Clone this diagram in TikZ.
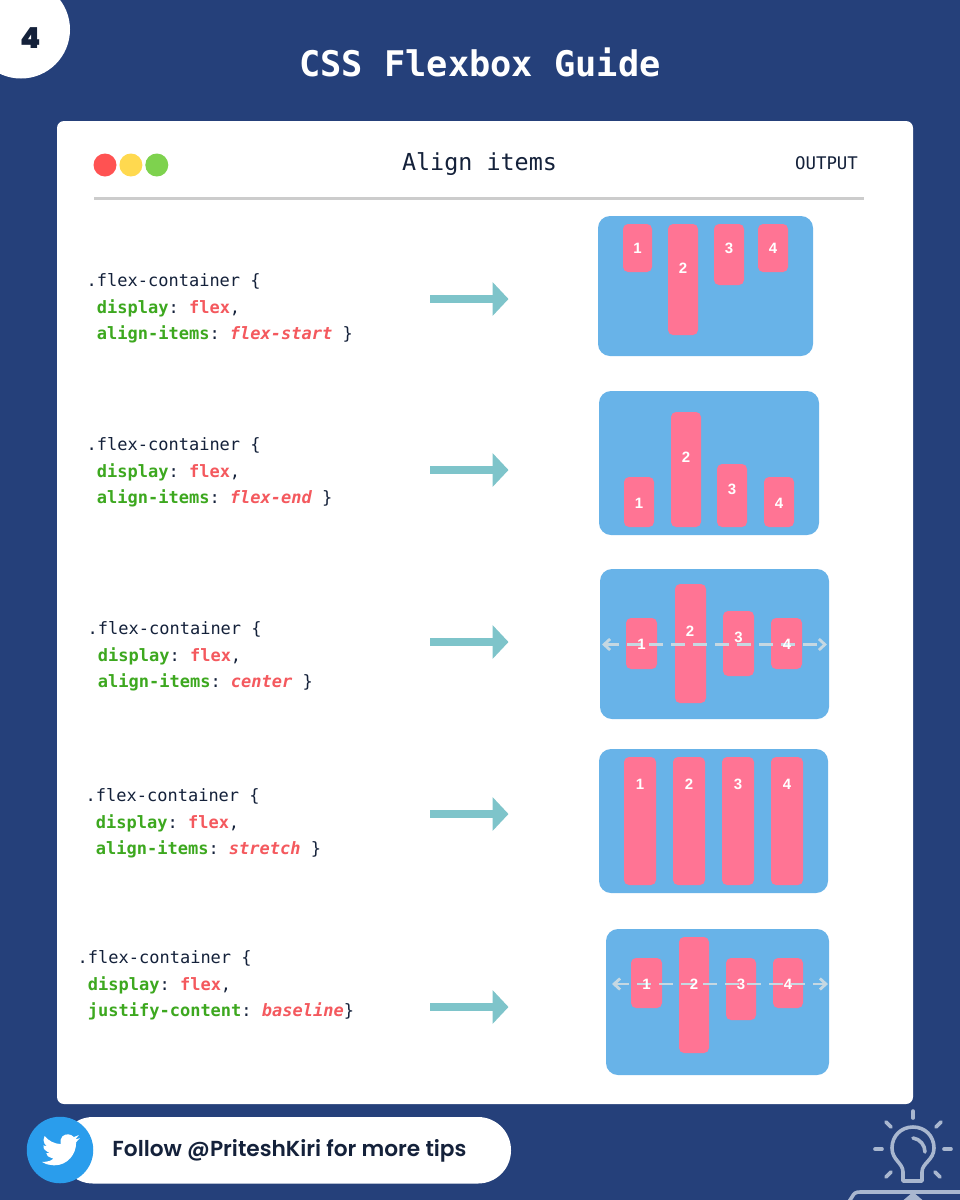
\documentclass[tikz,border=0pt]{standalone}
\usepackage{fontspec}
\setmainfont{Liberation Sans}
\newfontfamily\codefont{DejaVu Sans Mono}
\newfontfamily\followfont{Poppins SemiBold}
\newfontfamily\heavyfont{Poppins Black}
\usepackage{xcolor}
\usepackage{tikz}
\usetikzlibrary{positioning,arrows.meta}
\definecolor{navy}{HTML}{25407A}
\definecolor{ink}{HTML}{14213A}
\definecolor{codegreen}{HTML}{3DA81F}
\definecolor{codered}{HTML}{F4595E}
\definecolor{boxblue}{HTML}{68B3E8}
\definecolor{itempink}{HTML}{FF7494}
\definecolor{teal}{HTML}{7EC4CA}
\definecolor{dashgrey}{HTML}{C6D8E2}
\definecolor{bulb}{HTML}{A9B7CF}
\definecolor{twblue}{HTML}{2A9DEC}
\definecolor{dotred}{HTML}{FF5252}
\definecolor{dotyellow}{HTML}{FFD94F}
\definecolor{dotgreen}{HTML}{7ED24E}
\newcommand{\prop}[1]{\textcolor{codegreen}{\bfseries #1}}
\newcommand{\val}[1]{\textcolor{codered}{\bfseries #1}}
\newcommand{\valit}[1]{\textcolor{codered}{\bfseries\itshape #1}}
\tikzset{
  panel/.style={fill=white, rounded corners=7pt},
  dot/.style={circle, inner sep=0pt, minimum size=23pt},
  code/.style={anchor=west, align=left, inner sep=0pt, text=ink,
               font=\codefont\frenchspacing\fontsize{17}{26.6}\selectfont},
  flexbox/.style={fill=boxblue, rounded corners=12pt},
  item/.style={fill=itempink, rounded corners=5pt, inner sep=0pt},
  num/.style={text=white, inner sep=0pt, font=\bfseries\fontsize{15}{15}\selectfont},
  bigarrow/.style={draw=teal, line width=8.5pt, -{Triangle[length=16pt,width=33pt]}},
  midline/.style={draw=dashgrey, line width=2.8pt, dash pattern=on 14pt off 8pt,
                  {Straight Barb[length=6pt,width=11pt]}-{Straight Barb[length=6pt,width=11pt]}},
  ray/.style={draw=bulb, line width=3.6pt, line cap=round, line join=round},
}
\begin{document}
\begin{tikzpicture}[x=1pt,y=-1pt]
  \useasboundingbox[fill=navy] (0,0) rectangle (960,1200);
  % header
  \node[circle,fill=white,inner sep=0pt,minimum size=98pt] (badge) at (21,29.5) {};
  \node[text=ink,inner sep=0pt,font=\heavyfont\fontsize{29}{29}\selectfont] (page) at (31,38) {4};
  \node[text=white,inner sep=0pt,font=\codefont\bfseries\fontsize{35.3}{36}\selectfont] (title) at (480,62.5) {CSS Flexbox Guide};
  \fill[panel] (57,121) rectangle (913,1104);
  \node[dot,fill=dotred] (red) at (105,165) {};
  \node[dot,fill=dotyellow,right=2.5pt of red] (yellow) {};
  \node[dot,fill=dotgreen,right=2.5pt of yellow] (green) {};
  \node[text=ink,inner sep=0pt,font=\codefont\fontsize{23.4}{24}\selectfont] (head) at (479.5,164.5) {Align items};
  \node[text=ink,inner sep=0pt,font=\codefont\fontsize{17.4}{18}\selectfont] (output) at (826.5,163) {OUTPUT};
  \coordinate (rulel) at (94,198.5);
  \coordinate (ruler) at (864,198.5);
  \draw[line width=2.5pt,draw=black!20] (rulel) -- (ruler);

  % code column
  \node[code] (code1) at (86.5,308.5) {.flex-container \{\\ ~\prop{display}: \val{flex},\\ ~\prop{align-items}: \valit{flex-start} \}};
  \node[code] (code2) at (86.5,472.5) {.flex-container \{\\ ~\prop{display}: \val{flex},\\ ~\prop{align-items}: \valit{flex-end} \}};
  \node[code] (code3) at (87.5,656.5) {.flex-container \{\\ ~\prop{display}: \val{flex},\\ ~\prop{align-items}: \valit{center} \}};
  \node[code] (code4) at (85.5,823.5) {.flex-container \{\\ ~\prop{display}: \val{flex},\\ ~\prop{align-items}: \valit{stretch} \}};
  \node[code] (code5) at (77.5,985.5) {.flex-container \{\\ ~\prop{display}: \val{flex},\\ ~\prop{justify-content}: \valit{baseline}\}};

  % arrows
  \coordinate (from1) at (430,299); \coordinate (to1) at (508.5,299);
  \coordinate (from2) at (430,470); \coordinate (to2) at (508.5,470);
  \coordinate (from3) at (430,642); \coordinate (to3) at (508.5,642);
  \coordinate (from4) at (430,814); \coordinate (to4) at (508.5,814);
  \coordinate (from5) at (430,1007); \coordinate (to5) at (508.5,1007);
  \draw[bigarrow] (from1) -- (to1);
  \draw[bigarrow] (from2) -- (to2);
  \draw[bigarrow] (from3) -- (to3);
  \draw[bigarrow] (from4) -- (to4);
  \draw[bigarrow] (from5) -- (to5);

  % flex-start
  \fill[flexbox] (598,216) rectangle (813,356);
  \node[item,minimum width=29pt,minimum height=48pt] (a1) at (637.5,248) {};
  \node[item,minimum width=30pt,minimum height=111pt] (a2) at (683,279.5) {};
  \node[item,minimum width=30pt,minimum height=61pt] (a3) at (729,254.5) {};
  \node[item,minimum width=30pt,minimum height=48pt] (a4) at (773,248) {};
  \node[num] at (637.5,248) {1};
  \node[num] at (683,268) {2};
  \node[num] at (729,248) {3};
  \node[num] at (773,248) {4};

  % flex-end
  \fill[flexbox] (599,391) rectangle (819,535);
  \node[item,minimum width=30pt,minimum height=50pt] (b1) at (639,502) {};
  \node[item,minimum width=30pt,minimum height=115pt] (b2) at (686,469.5) {};
  \node[item,minimum width=30pt,minimum height=63pt] (b3) at (732,495.5) {};
  \node[item,minimum width=30pt,minimum height=50pt] (b4) at (779,502) {};
  \node[num] at (639,503) {1};
  \node[num] at (686,457) {2};
  \node[num] at (732,489) {3};
  \node[num] at (779,503) {4};

  % center
  \fill[flexbox] (600,569) rectangle (829,719);
  \node[item,minimum width=31pt,minimum height=51pt] (c1) at (641.5,643.5) {};
  \node[item,minimum width=31pt,minimum height=119pt] (c2) at (690.5,643.5) {};
  \node[item,minimum width=31pt,minimum height=65pt] (c3) at (738.5,643.5) {};
  \node[item,minimum width=31pt,minimum height=51pt] (c4) at (786.5,643.5) {};
  \coordinate (cl) at (602,644.5);
  \coordinate (cr) at (827,644.5);
  \draw[midline] (cl) -- (cr);
  \node[num] at (641.5,644) {1};
  \node[num] at (690,631) {2};
  \node[num] at (738.5,637) {3};
  \node[num] at (787,644) {4};

  % stretch
  \fill[flexbox] (599,749) rectangle (828,893);
  \node[item,minimum width=32pt,minimum height=128pt] (d1) at (640,821) {};
  \node[item,minimum width=32pt,minimum height=128pt] (d2) at (689,821) {};
  \node[item,minimum width=32pt,minimum height=128pt] (d3) at (738,821) {};
  \node[item,minimum width=32pt,minimum height=128pt] (d4) at (787,821) {};
  \node[num] at (640,784) {1};
  \node[num] at (689,784) {2};
  \node[num] at (738,784) {3};
  \node[num] at (787,784) {4};

  % baseline
  \fill[flexbox] (606,929) rectangle (829,1075);
  \node[item,minimum width=31pt,minimum height=50pt] (e1) at (646.5,983) {};
  \node[item,minimum width=30pt,minimum height=116pt] (e2) at (694,995) {};
  \node[item,minimum width=30pt,minimum height=62pt] (e3) at (741,989) {};
  \node[item,minimum width=30pt,minimum height=50pt] (e4) at (788,983) {};
  \coordinate (el) at (612,984);
  \coordinate (er) at (828,984);
  \draw[midline] (el) -- (er);
  \node[num] at (646.5,984) {1};
  \node[num] at (694,984) {2};
  \node[num] at (741,984) {3};
  \node[num] at (788,984) {4};

  % footer
  \fill[white,rounded corners=33pt] (60,1117) rectangle (511,1183.5);
  \node[circle,fill=twblue,inner sep=0pt,minimum size=66.5pt] (tw) at (60,1150) {};
  \begin{scope}[shift={(42,1131)},x=1.58pt,y=-1.58pt]
    \fill[white] (23.95,4.57) .. controls (23,5) .. (21.13,5.35) .. controls (22.2,4.6) .. (23.29,2.62)
      .. controls (22.34,3.18) and (21.28,3.58) .. (20.16,3.8)
      .. controls (18.3,1.8) and (15,1.4) .. (12.9,3.4) .. controls (11.6,4.7) and (11.4,6.6) .. (11.78,8.29)
      .. controls (7.69,8.1) and (4.07,6.13) .. (1.64,3.16) .. controls (1.2,3.9) .. (.97,5.64)
      .. controls (.97,7.35) and (1.84,8.85) .. (3.16,9.73) .. controls (2.4,9.7) .. (.93,9.12)
      .. controls (1,11.6) .. (4.88,14) .. controls (4,14.2) .. (2.67,14.09) .. controls (3.3,16) .. (7.27,17.5)
      .. controls (5.5,18.9) .. (1.17,19.61) .. controls (.78,19.61) and (.39,19.59) .. (0,19.54)
      .. controls (2.2,21) .. (7.56,21.75) .. controls (16.61,21.75) and (21.55,14.26) .. (21.55,7.77)
      .. controls (21.55,7.56) and (21.55,7.35) .. (21.54,7.14) .. controls (22.5,6.4) .. (23.95,4.57) -- cycle;
  \end{scope}
  \node[text=ink,inner sep=0pt,font=\followfont\fontsize{21.7}{24}\selectfont] (follow) at (289.5,1151) {Follow @PriteshKiri for more tips};

  % bulb icon
  \draw[ray] (903,1181) -- (903,1172) .. controls (903,1163) and (892,1160) .. (892,1148)
    .. controls (892,1136) and (901,1127) .. (913,1127) .. controls (925,1127) and (934,1136) .. (934,1148)
    .. controls (934,1160) and (922,1163) .. (922,1172) -- (922,1181) -- cycle;
  \draw[ray] (913,1138) .. controls (920,1139) and (925,1145) .. (925,1152);
  \draw[ray] (913,1111) -- (913,1118);
  \draw[ray] (936,1127) -- (941,1122);
  \draw[ray] (886,1122) -- (891,1127);
  \draw[ray] (875,1149) -- (882,1149);
  \draw[ray] (944,1149) -- (951,1149);
  \draw[ray] (886,1177) -- (891,1172);
  \draw[ray] (935,1172) -- (940,1177);
  \draw[ray] (848,1203) -- (852,1197) .. controls (854,1193) and (856,1192) .. (860,1192) -- (965,1192);
  \fill[bulb] (913,1192) -- (926,1203) -- (900,1203) -- cycle;
\end{tikzpicture}
\end{document}
